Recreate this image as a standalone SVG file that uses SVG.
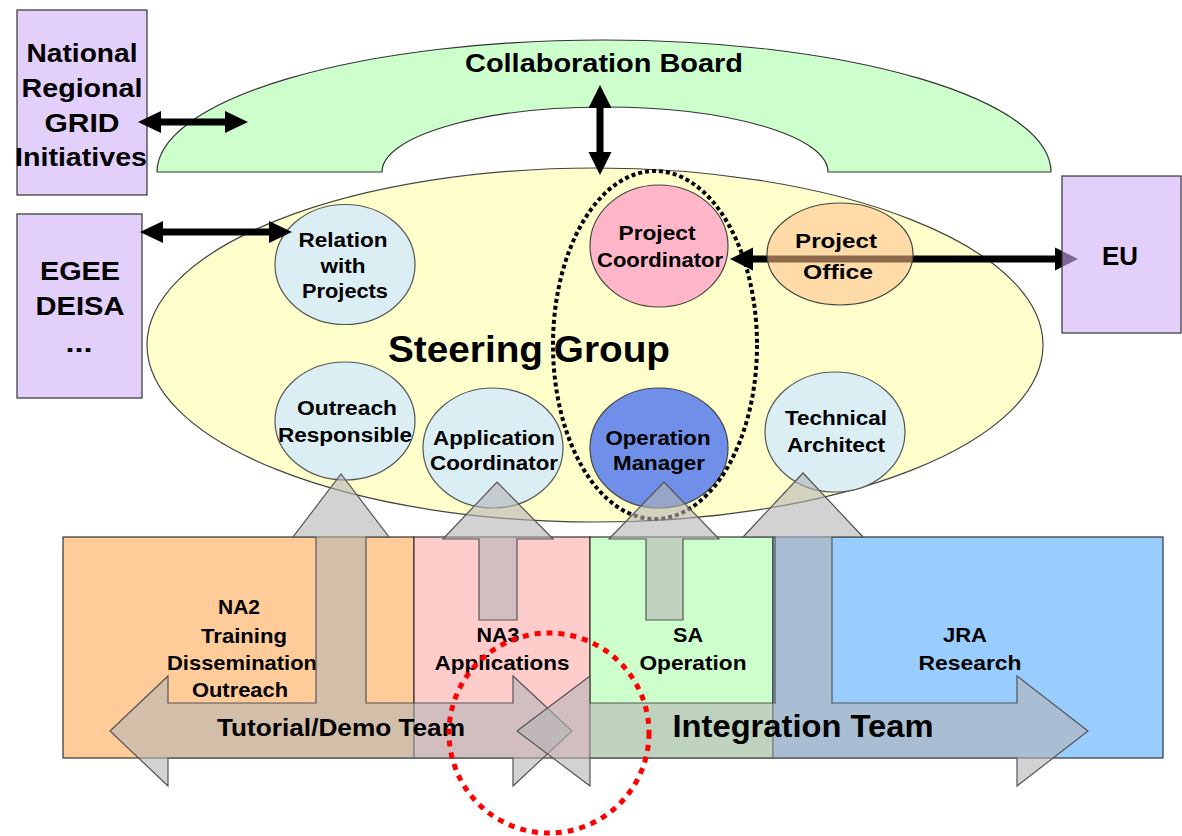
<svg xmlns="http://www.w3.org/2000/svg" width="1182" height="836" viewBox="0 0 1182 836">
<style>
  text { font-family: "Liberation Sans", Arial, sans-serif; font-weight: bold; fill: #000; text-anchor: middle; }
  .t25 { font-size: 25px; }
  .t20 { font-size: 20px; }
  .t21 { font-size: 21px; }
  .purple { fill: #E2CFFA; stroke: #333; stroke-width: 1.2; }
  .role { fill: #DBEEF4; stroke: #555; stroke-width: 1.2; }
  .box { stroke: #333; stroke-width: 1.2; }
  .blk { fill: #000; }
  .team { fill: #B4B4B4; fill-opacity: 0.6; stroke: #555; stroke-width: 1.2; }
</style>
<rect width="1182" height="836" fill="#fff"/>

<g id="collaboration-board">
  <path d="M157,172 A447,132 0 0 1 1051,172 L828,172 A223,65 0 0 0 382,172 Z" fill="#CCFFCC" stroke="#333" stroke-width="1.2"/>
  <text class="t25" x="604" y="72" textLength="278" lengthAdjust="spacingAndGlyphs">Collaboration Board</text>
</g>

<g id="national-grid">
  <rect class="purple" x="17" y="10" width="130" height="185"/>
  <text class="t25" x="82" y="62" textLength="111" lengthAdjust="spacingAndGlyphs">National</text>
  <text class="t25" x="82" y="97" textLength="121" lengthAdjust="spacingAndGlyphs">Regional</text>
  <text class="t25" x="82" y="132" textLength="75" lengthAdjust="spacingAndGlyphs">GRID</text>
  <text class="t25" x="81" y="166" textLength="132" lengthAdjust="spacingAndGlyphs">Initiatives</text>
</g>

<g id="egee-deisa">
  <rect class="purple" x="17" y="214" width="125" height="184"/>
  <text class="t25" x="80" y="280" textLength="80" lengthAdjust="spacingAndGlyphs">EGEE</text>
  <text class="t25" x="80" y="315" textLength="89" lengthAdjust="spacingAndGlyphs">DEISA</text>
  <text class="t25" x="79" y="352" textLength="27" lengthAdjust="spacingAndGlyphs">...</text>
</g>

<g id="steering-group">
  <ellipse cx="595" cy="345" rx="448" ry="177" fill="#FFFFCC" stroke="#444" stroke-width="1.2"/>
  <text x="529" y="362" font-size="36" textLength="282" lengthAdjust="spacingAndGlyphs">Steering Group</text>
</g>

<g id="relation-with-projects">
  <ellipse class="role" cx="345" cy="264.5" rx="70" ry="60"/>
  <text class="t20" x="343" y="247" textLength="89" lengthAdjust="spacingAndGlyphs">Relation</text>
  <text class="t20" x="343" y="273" textLength="45" lengthAdjust="spacingAndGlyphs">with</text>
  <text class="t20" x="345" y="298" textLength="86" lengthAdjust="spacingAndGlyphs">Projects</text>
</g>

<g id="outreach-responsible">
  <ellipse class="role" cx="345" cy="421" rx="70" ry="59"/>
  <text class="t20" x="347" y="415" textLength="100" lengthAdjust="spacingAndGlyphs">Outreach</text>
  <text class="t20" x="345" y="442" textLength="134" lengthAdjust="spacingAndGlyphs">Responsible</text>
</g>

<g id="application-coordinator">
  <ellipse class="role" cx="493" cy="448" rx="70" ry="60"/>
  <text class="t20" x="494" y="445" textLength="122" lengthAdjust="spacingAndGlyphs">Application</text>
  <text class="t20" x="494" y="470" textLength="128" lengthAdjust="spacingAndGlyphs">Coordinator</text>
</g>

<g id="operation-manager">
  <ellipse cx="659" cy="448" rx="69" ry="60" fill="#6F8FE8" stroke="#444" stroke-width="1.2"/>
  <text class="t20" x="658" y="445" textLength="105" lengthAdjust="spacingAndGlyphs">Operation</text>
  <text class="t20" x="659" y="470" textLength="92" lengthAdjust="spacingAndGlyphs">Manager</text>
</g>

<g id="project-coordinator">
  <ellipse cx="659" cy="246" rx="69" ry="61" fill="#FFB6C8" stroke="#444" stroke-width="1.2"/>
  <text class="t20" x="657" y="240" textLength="77" lengthAdjust="spacingAndGlyphs">Project</text>
  <text class="t20" x="660" y="267" textLength="126" lengthAdjust="spacingAndGlyphs">Coordinator</text>
</g>

<g id="technical-architect">
  <ellipse class="role" cx="835" cy="432" rx="70" ry="60"/>
  <text class="t20" x="836" y="425" textLength="102" lengthAdjust="spacingAndGlyphs">Technical</text>
  <text class="t20" x="836" y="452" textLength="98" lengthAdjust="spacingAndGlyphs">Architect</text>
</g>

<g id="core-group">
  <ellipse cx="655" cy="345" rx="102" ry="174" fill="none" stroke="#000" stroke-width="4" stroke-dasharray="4 3"/>
</g>

<g id="connectors">
  <polygon class="blk" points="138,122 161,111 161,118.5 225,118.5 225,111 248,122 225,133 225,125.5 161,125.5 161,133"/>
  <polygon class="blk" points="140,232 163,221 163,228.5 269,228.5 269,221 292,232 269,243 269,235.5 163,235.5 163,243"/>
  <polygon class="blk" points="600,85 611.5,108 603.5,108 603.5,152 611.5,152 600,175 588.5,152 596.5,152 596.5,108 588.5,108"/>
  <polygon class="blk" points="730,259 753,247.5 753,255.5 1055,255.5 1055,247.5 1078,259 1055,270.5 1055,262.5 753,262.5 753,270.5"/>
</g>

<g id="eu">
  <rect x="1062" y="176" width="119" height="157" fill="#CFAFF7" fill-opacity="0.6" stroke="#333" stroke-width="1.2"/>
  <text class="t25" x="1120" y="265" textLength="36" lengthAdjust="spacingAndGlyphs">EU</text>
</g>

<g id="project-office">
  <ellipse cx="840" cy="254" rx="73" ry="51" fill="#FFBF88" fill-opacity="0.55" stroke="#444" stroke-width="1.2"/>
  <text class="t20" x="836" y="248" textLength="82" lengthAdjust="spacingAndGlyphs">Project</text>
  <text class="t20" x="838" y="279" textLength="70" lengthAdjust="spacingAndGlyphs">Office</text>
</g>

<g id="na2">
  <rect class="box" x="63" y="537" width="351" height="221" fill="#FFCC99"/>
  <text class="t21" x="239" y="614" textLength="42" lengthAdjust="spacingAndGlyphs">NA2</text>
  <text class="t21" x="244" y="643" textLength="86" lengthAdjust="spacingAndGlyphs">Training</text>
  <text class="t21" x="242" y="670" textLength="150" lengthAdjust="spacingAndGlyphs">Dissemination</text>
  <text class="t21" x="240" y="697" textLength="96" lengthAdjust="spacingAndGlyphs">Outreach</text>
</g>

<g id="na3">
  <rect class="box" x="414" y="537" width="176" height="221" fill="#FFCCCC"/>
  <text class="t21" x="498" y="642" textLength="43" lengthAdjust="spacingAndGlyphs">NA3</text>
  <text class="t21" x="502" y="670" textLength="135" lengthAdjust="spacingAndGlyphs">Applications</text>
</g>

<g id="sa">
  <rect class="box" x="590" y="537" width="183" height="221" fill="#CCFFCC"/>
  <text class="t21" x="688" y="642" textLength="30" lengthAdjust="spacingAndGlyphs">SA</text>
  <text class="t21" x="693" y="670" textLength="107" lengthAdjust="spacingAndGlyphs">Operation</text>
</g>

<g id="jra">
  <rect class="box" x="773" y="537" width="390" height="221" fill="#99CCFF"/>
  <text class="t21" x="965" y="642" textLength="44" lengthAdjust="spacingAndGlyphs">JRA</text>
  <text class="t21" x="970" y="670" textLength="103" lengthAdjust="spacingAndGlyphs">Research</text>
</g>

<g id="application-arrow">
  <polygon class="team" points="497,482 553,539 517,539 517,620 479,620 479,539 443,539"/>
</g>

<g id="operation-arrow">
  <polygon class="team" points="664,482 719,539 683,539 683,620 646,620 646,539 609,539"/>
</g>

<g id="tutorial-demo-team">
  <polygon class="team" points="110,731 168,676 168,703 316,703 316,537 293,537 341,474 389,537 366,537 366,703 513,703 513,676 572,731 513,786 513,758 168,758 168,786"/>
  <text x="341" y="736" font-size="23" textLength="248" lengthAdjust="spacingAndGlyphs">Tutorial/Demo Team</text>
</g>

<g id="integration-team">
  <polygon class="team" points="517,731 590,676 590,703 775,703 775,537 743,537 803,473 863,537 832,537 832,703 1017,703 1017,676 1088,731 1017,786 1017,758 590,758 590,786"/>
  <text x="803" y="737" font-size="31" textLength="261" lengthAdjust="spacingAndGlyphs">Integration Team</text>
</g>

<g id="highlight">
  <circle cx="549" cy="733" r="100" fill="none" stroke="#FF0000" stroke-width="5" stroke-dasharray="6 6"/>
</g>
</svg>
